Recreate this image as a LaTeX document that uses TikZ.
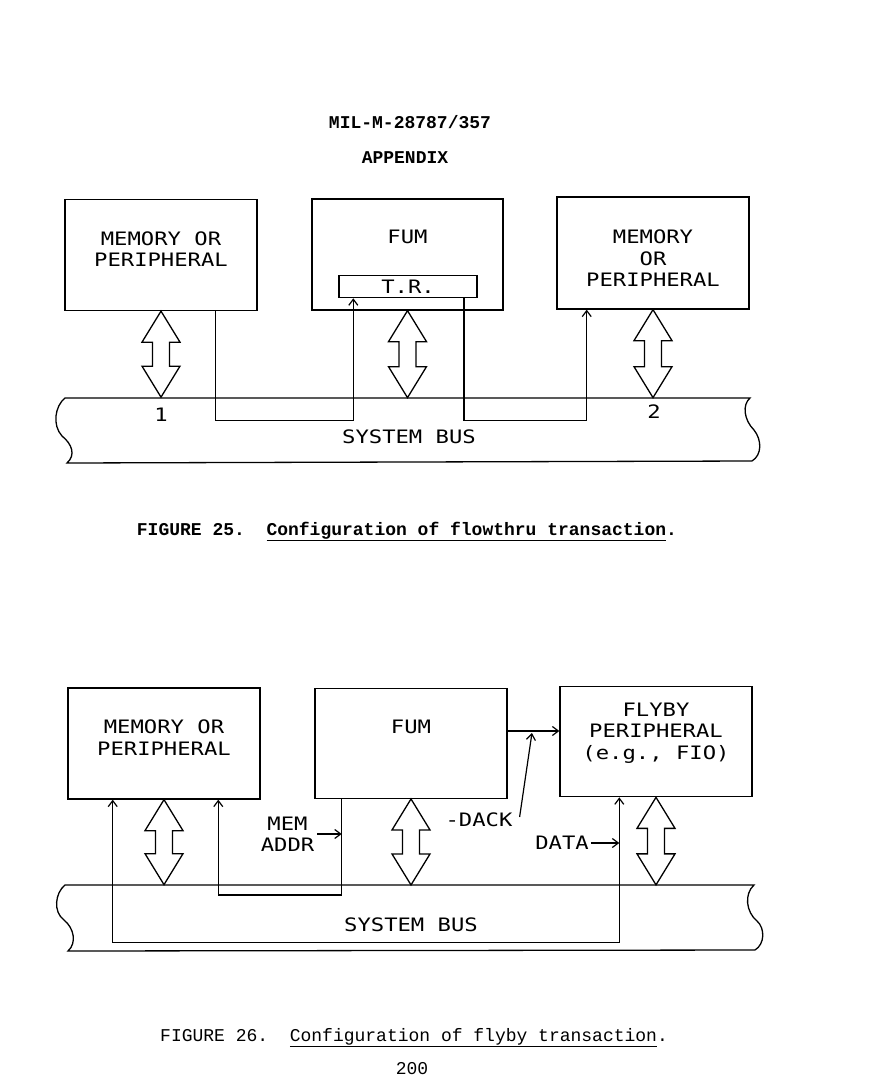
\documentclass[tikz,border=0pt]{standalone}
\usepackage{fontspec}
\usepackage{tikz}
\usetikzlibrary{arrows.meta, positioning}
\setmainfont{Liberation Mono}
\newfontfamily\plotfont[FakeStretch=1.2]{DejaVu Sans Mono}

% hollow two-headed arrow from a box down to the bus
\newcommand{\busarrow}[2]{%
  \draw[fatarrow] (#1) -- ++(19,31) -- ++(-10.5,0) -- ++(0,#2-62) -- ++(10.5,0) -- ++(-19,31)
    -- ++(-19,-31) -- ++(10.5,0) -- ++(0,62-#2) -- ++(-10.5,0) -- cycle;}

\begin{document}
\frenchspacing
\begin{tikzpicture}[x=1pt, y=-1pt, >={Straight Barb[length=6pt,width=9pt]}]
    \tikzstyle{box} = [rectangle, draw, line width=1.3pt, minimum width=192pt, minimum height=111pt, inner sep=0pt]
    \tikzstyle{txt} = [font=\plotfont\fontsize{18.5}{21.5}\selectfont, align=center, inner sep=0pt, text depth=0pt]
    \tikzstyle{fatarrow} = [draw, line width=1.3pt, fill=white, line join=miter]
    \tikzstyle{line} = [draw, line width=1.2pt]
    \tikzstyle{bus} = [draw, line width=1.3pt]
    \tikzstyle{caption} = [anchor=base west, inner sep=0pt, font=\fontsize{18}{18}\selectfont]

    \path[fill=white] (0,0) rectangle (872,1076);

    \node[anchor=base, inner sep=0pt, font=\bfseries\fontsize{18}{18}\selectfont] (docno) at (410,128) {MIL-M-28787/357};
    \node[anchor=base, inner sep=0pt, font=\bfseries\fontsize{18}{18}\selectfont] (appx) at (405,163) {APPENDIX};

    % figure 25
    \node[box] (mem1) at (161,255) {};
    \node[box, minimum width=191pt] (fum1) at (407.5,254.5) {};
    \node[box, line width=1.2pt, minimum width=138pt, minimum height=22pt, font=\plotfont\fontsize{18.5}{21.5}\selectfont, text depth=0pt] (tr) at (408,286.7) {T.R.};
    \node[box, minimum height=112pt] (mem2) at (653,253) {};
    \node[txt] (mem1txt) at (161,249) {MEMORY OR\\PERIPHERAL};
    \node[txt] (fum1txt) at (407.5,237) {FUM};
    \node[txt] (mem2txt) at (653,258.5) {MEMORY\\OR\\PERIPHERAL};

    \draw[bus] (750,398) -- (65,398) .. controls (55,406) and (52,425) .. (62,436)
        .. controls (72,444) and (76,455) .. (67,463) -- (752,461)
        .. controls (762,455) and (762,440) .. (754,430)
        .. controls (744,420) and (742,405) .. (750,398) -- cycle;
    \node[txt] (bus1) at (409,437) {SYSTEM BUS};
    \node[txt] (n1) at (161,415) {1};
    \node[txt] (n2) at (654,412) {2};

    \busarrow{mem1.south}{86}
    \busarrow{fum1.south}{87}
    \busarrow{mem2.south}{88}

    \draw[line, ->] ([xshift=54.7pt]mem1.south) -- ++(0,109) -| ([xshift=-54.7pt]tr.south);
    \draw[line, ->] ([xshift=56pt]tr.south) -- ++(0,122) -| ([xshift=-66.3pt]mem2.south);

    \node[caption, font=\bfseries\fontsize{18}{18}\selectfont] (cap25) at (136.7,535) {FIGURE 25.\ \ \underline{Configuration of flowthru transaction}.};

    % figure 26
    \node[box] (mem3) at (164,743.5) {};
    \node[box, minimum height=110pt] (fum2) at (411,743.3) {};
    \node[box, minimum height=110pt] (fly) at (656,741.7) {};
    \node[txt] (mem3txt) at (164,737.5) {MEMORY OR\\PERIPHERAL};
    \node[txt] (fum2txt) at (411,727) {FUM};
    \node[txt] (flytxt) at (656,731) {FLYBY\\PERIPHERAL\\(e.g., FIO)};

    \draw[bus] (754,885) -- (65,885) .. controls (55,893) and (53,912) .. (64,920)
        .. controls (74,928) and (77,943) .. (68,951) -- (755,950)
        .. controls (765,944) and (765,928) .. (757,921)
        .. controls (746,912) and (744,894) .. (754,885) -- cycle;
    \node[txt] (bus2) at (411,925) {SYSTEM BUS};

    \busarrow{mem3.south}{85}
    \busarrow{fum2.south}{86}
    \busarrow{fly.south}{87.5}

    \coordinate (addrbus) at ([xshift=-69.3pt]fum2.south);
    \coordinate (databus) at ([xshift=-36.7pt]fly.south);
    \coordinate (dackin) at ([yshift=12.3pt]fum2.east);

    \draw[line, <->] ([xshift=-51.3pt]mem3.south) -- ++(0,143) -| (databus);
    \draw[line, ->] (addrbus) -- ++(0,96) -| ([xshift=54.3pt]mem3.south);
    \draw[line, ->] (dackin) -- (dackin -| fly.west);

    \node[txt] (memaddr) at (287.5,834) {MEM\\ADDR};
    \node[txt] (dack) at (479,820) {-DACK};
    \node[txt] (data) at (562,843) {DATA};
    \draw[line, ->] ([xshift=3pt]memaddr.east) -- (addrbus |- memaddr.east);
    \draw[line, ->] ([xshift=7pt,yshift=3pt]dack.east) -- ([xshift=24.3pt,yshift=-2pt]dackin);
    \draw[line, ->] ([xshift=2pt]data.east) -- (databus |- data.east);

    \node[caption] (cap26) at (160,1041) {FIGURE 26.\ \ \underline{Configuration of flyby transaction}.};
    \node[anchor=base, inner sep=0pt, font=\fontsize{18}{18}\selectfont] (pageno) at (412,1074) {200};
\end{tikzpicture}
\end{document}
